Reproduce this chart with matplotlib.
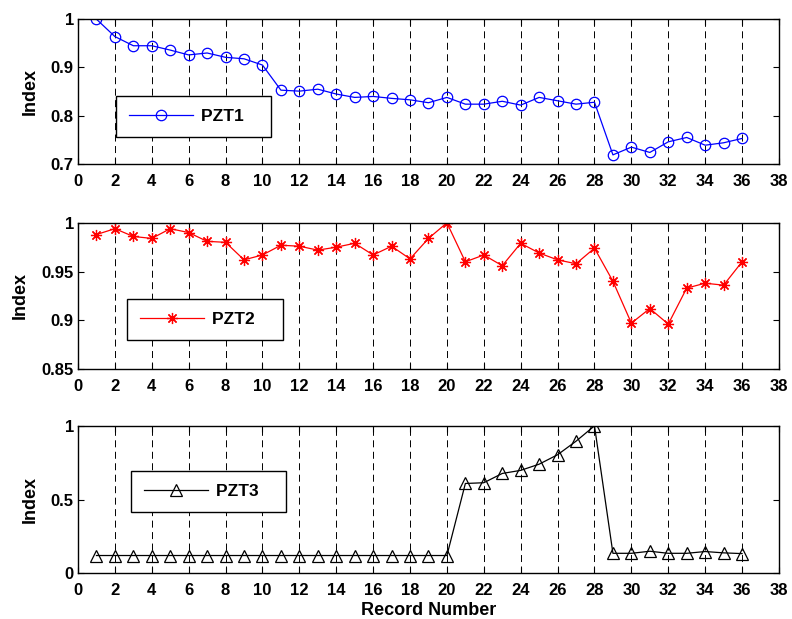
import matplotlib
matplotlib.use("Agg")
import matplotlib.pyplot as plt
import numpy as np

plt.rcParams['font.family'] = ['Liberation Sans', 'DejaVu Sans']
plt.rcParams['font.weight'] = 'bold'

records = list(range(1, 37))
pzt1 = [1.000, 0.964, 0.945, 0.945, 0.936, 0.926, 0.930, 0.921, 0.918, 0.905,
        0.853, 0.851, 0.855, 0.845, 0.838, 0.840, 0.836, 0.833, 0.827, 0.838,
        0.824, 0.824, 0.830, 0.822, 0.838, 0.831, 0.824, 0.828, 0.719, 0.735,
        0.724, 0.746, 0.755, 0.739, 0.744, 0.753]
pzt2 = [0.988, 0.994, 0.986, 0.984, 0.994, 0.990, 0.981, 0.980, 0.962, 0.967,
        0.977, 0.976, 0.972, 0.975, 0.979, 0.967, 0.976, 0.963, 0.984, 1.000,
        0.960, 0.967, 0.956, 0.979, 0.969, 0.962, 0.958, 0.974, 0.940, 0.897,
        0.912, 0.896, 0.933, 0.938, 0.936, 0.960]
pzt3 = [0.12] * 20 + [0.609, 0.614, 0.677, 0.698, 0.740, 0.804, 0.896, 1.000,
                      0.135, 0.135, 0.149, 0.135, 0.135, 0.147, 0.138, 0.133]

xticks = list(range(0, 39, 2))
yticks1 = [0.7, 0.8, 0.9, 1.0]
yticklabels1 = ['0.7', '0.8', '0.9', '1']
yticks2 = [0.85, 0.9, 0.95, 1.0]
yticklabels2 = ['0.85', '0.9', '0.95', '1']
yticks3 = [0, 0.5, 1.0]
yticklabels3 = ['0', '0.5', '1']

fig = plt.figure(figsize=(7.92, 6.19), dpi=100)
left, width = 0.0985, 0.885
axes_pos = [(0.735, 0.234), (0.404, 0.236), (0.074, 0.238)]
series = [
    (pzt1, 'PZT1', 'blue', 'o', yticks1, yticklabels1, (0.7, 1.0),
     dict(markersize=7.5, markerfacecolor='none'), (0.054, 0.188)),
    (pzt2, 'PZT2', 'red', (8, 2, 0), yticks2, yticklabels2, (0.85, 1.0),
     dict(markersize=8), (0.070, 0.199)),
    (pzt3, 'PZT3', 'black', '^', yticks3, yticklabels3, (0.0, 1.0),
     dict(markersize=9, markerfacecolor='none'), (0.0756, 0.415)),
]
tick_fs = 12
for i, ((b, h), (vals, lab, col, mk, yt, ytl, ylim, mkw, legpos)) in enumerate(zip(axes_pos, series)):
    ax = fig.add_axes([left, b, width, h])
    ax.plot(records, vals, color=col, marker=mk, linewidth=0.9,
            markeredgewidth=0.9, label=lab + '   ', **mkw)
    ax.set_xlim(0, 38)
    ax.set_ylim(*ylim)
    ax.set_xticks(xticks)
    ax.set_xticklabels([str(t) for t in xticks], fontsize=tick_fs, fontweight='bold')
    ax.set_yticks(yt)
    ax.set_yticklabels(ytl, fontsize=tick_fs, fontweight='bold')
    ax.tick_params(direction='in', top=True, right=True, length=4, width=0.8)
    ax.tick_params(axis='x', pad=7)
    ax.tick_params(axis='y', pad=3)
    ax.xaxis.grid(True, linestyle=(0, (7.2, 4.6)), color='black', linewidth=0.7)
    ax.set_ylabel('Index', fontsize=13, fontweight='bold', labelpad=9)
    for s in ax.spines.values():
        s.set_linewidth(1.0)
    leg = ax.legend(loc='lower left', bbox_to_anchor=legpos, fancybox=False,
                    edgecolor='black', framealpha=1, handlelength=3.7,
                    handletextpad=0.45, borderpad=0.75,
                    prop=dict(weight='bold', size=12.5),
                    borderaxespad=0)
    leg.get_frame().set_linewidth(1.0)
    if i == 2:
        ax.set_xlabel('Record Number', fontsize=13, fontweight='bold', labelpad=3)

fig.savefig('out.png', dpi=100)
